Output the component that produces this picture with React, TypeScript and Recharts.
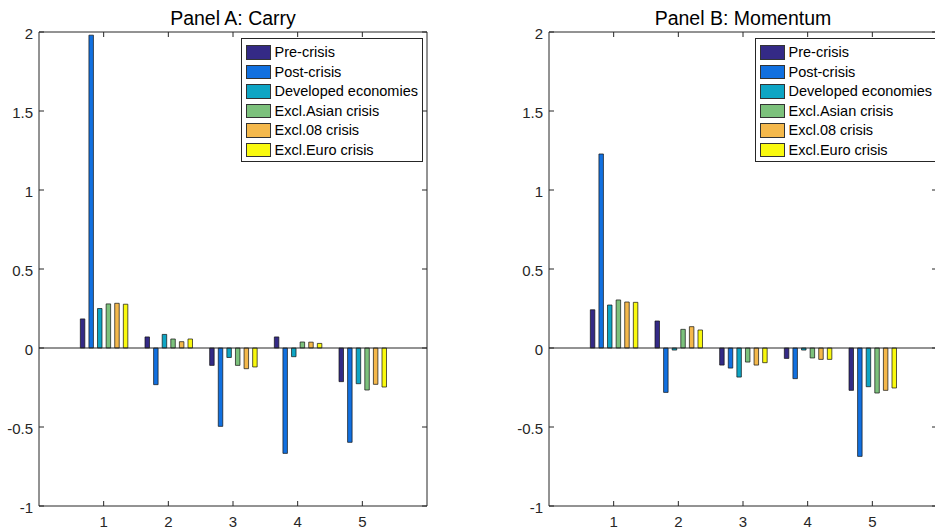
import React from 'react';
import { BarChart, Bar, XAxis, YAxis, ReferenceLine } from 'recharts';

const groups = ['1', '2', '3', '4', '5'];
const seriesNames = ['Pre-crisis', 'Post-crisis', 'Developed economies', 'Excl.Asian crisis', 'Excl.08 crisis', 'Excl.Euro crisis'];
const seriesKeys = ['pre', 'post', 'dev', 'asian', 'c08', 'euro'];
const seriesColors = ['#342a86', '#1170e0', '#0ea5c4', '#7cc17c', '#f4b84b', '#f9f90e'];
const yTicks = [-1, -0.5, 0, 0.5, 1, 1.5, 2];

// Panel A: Carry
const preCarry = [0.184, 0.07, -0.11, 0.07, -0.213];
const postCarry = [1.98, -0.232, -0.496, -0.667, -0.597];
const devCarry = [0.25, 0.086, -0.06, -0.055, -0.226];
const asianCarry = [0.279, 0.057, -0.11, 0.038, -0.266];
const c08Carry = [0.283, 0.04, -0.131, 0.037, -0.23];
const euroCarry = [0.277, 0.057, -0.12, 0.029, -0.247];

// Panel B: Momentum
const preMom = [0.242, 0.171, -0.108, -0.066, -0.268];
const postMom = [1.228, -0.281, -0.127, -0.194, -0.686];
const devMom = [0.272, -0.013, -0.184, -0.013, -0.245];
const asianMom = [0.304, 0.118, -0.089, -0.063, -0.285];
const c08Mom = [0.291, 0.135, -0.108, -0.072, -0.268];
const euroMom = [0.289, 0.114, -0.093, -0.072, -0.253];

const carrySeries = [preCarry, postCarry, devCarry, asianCarry, c08Carry, euroCarry];
const momSeries = [preMom, postMom, devMom, asianMom, c08Mom, euroMom];

const FONT = '"Liberation Sans", Arial, Helvetica, sans-serif';
const AXIS = '#262626';
const TICK = 5;

const toRows = (series: number[][]) =>
  groups.map((g, i) => {
    const row: Record<string, any> = { g };
    seriesKeys.forEach((k, j) => { row[k] = series[j][i]; });
    return row;
  });

// MATLAB-style ticks point into the axes box
const BottomTick = (p: any) => (
  <g>
    <line x1={p.x} y1={p.y} x2={p.x} y2={p.y - TICK} stroke={AXIS} strokeWidth={1} />
    <text x={p.x} y={p.y + 21} textAnchor="middle" fontSize={15} fontFamily={FONT} fill={AXIS}>{p.payload.value}</text>
  </g>
);
const TopTick = (p: any) => <line x1={p.x} y1={p.y} x2={p.x} y2={p.y + TICK} stroke={AXIS} strokeWidth={1} />;
const LeftTick = (p: any) => (
  <g>
    <line x1={p.x} y1={p.y} x2={p.x + TICK} y2={p.y} stroke={AXIS} strokeWidth={1} />
    <text x={p.x - 6} y={p.y + 6.5} textAnchor="end" fontSize={15} fontFamily={FONT} fill={AXIS}>{p.payload.value}</text>
  </g>
);
const RightTick = (p: any) => <line x1={p.x} y1={p.y} x2={p.x - TICK} y2={p.y} stroke={AXIS} strokeWidth={1} />;

function Panel({ title, series, left, legendLeft }: { title: string; series: number[][]; left: number; legendLeft: number }) {
  const rows = toRows(series);
  const pad = { left: 32.33, right: 32.33 };
  return (
    <>
      <div style={{ position: 'absolute', left: left + 39, top: 8.5, width: 388, textAlign: 'center', fontFamily: FONT, fontSize: 19.5, lineHeight: '19.5px', color: '#000', whiteSpace: 'nowrap' }}>
        {title}
      </div>
      <div style={{ position: 'absolute', left, top: 0 }}>
        <BarChart width={440} height={529} data={rows} margin={{ top: 31, right: 12, bottom: 0, left: 0 }} barSize={4.5} barGap={4.1}>
          <XAxis dataKey="g" padding={pad} height={23} interval={0} tickLine={false} tickSize={0} tickMargin={0} tick={BottomTick} axisLine={{ stroke: AXIS }} />
          <XAxis xAxisId="top" orientation="top" dataKey="g" padding={pad} height={1} interval={0} tickLine={false} tickSize={0} tickMargin={0} tick={TopTick} axisLine={{ stroke: AXIS }} />
          <YAxis type="number" domain={[-1, 2]} ticks={yTicks} width={39} allowDataOverflow interval={0} tickLine={false} tickSize={0} tickMargin={0} tick={LeftTick} axisLine={{ stroke: AXIS }} />
          <YAxis yAxisId="right" orientation="right" type="number" domain={[-1, 2]} ticks={yTicks} width={1} allowDataOverflow interval={0} tickLine={false} tickSize={0} tickMargin={0} tick={RightTick} axisLine={{ stroke: AXIS }} />
          {seriesKeys.map((k, j) => (
            <Bar key={k} dataKey={k} name={seriesNames[j]} fill={seriesColors[j]} stroke="#111" strokeWidth={0.7} isAnimationActive={false} />
          ))}
          <ReferenceLine y={0} stroke={AXIS} strokeWidth={1} />
        </BarChart>
      </div>
      <div style={{ position: 'absolute', left: legendLeft, top: 38, width: 176, height: 118, border: `1px solid ${AXIS}`, background: '#fff', paddingTop: 3.5, paddingLeft: 3.5, boxSizing: 'content-box', fontFamily: FONT }}>
        {seriesNames.map((n, j) => (
          <div key={n} style={{ display: 'flex', alignItems: 'center', height: 19.5 }}>
            <div style={{ width: 23, height: 12.5, background: seriesColors[j], border: '1px solid #333', marginRight: 4 }} />
            <span style={{ fontSize: 14.5, color: '#000', whiteSpace: 'nowrap' }}>{n}</span>
          </div>
        ))}
      </div>
    </>
  );
}

export default function App() {
  return (
    <div style={{ position: 'absolute', left: 0, top: 0, width: 935, height: 529, overflow: 'hidden', background: '#fff' }}>
      <Panel title="Panel A: Carry" series={carrySeries} left={0} legendLeft={241} />
      <Panel title="Panel B: Momentum" series={momSeries} left={510} legendLeft={755} />
    </div>
  );
}
